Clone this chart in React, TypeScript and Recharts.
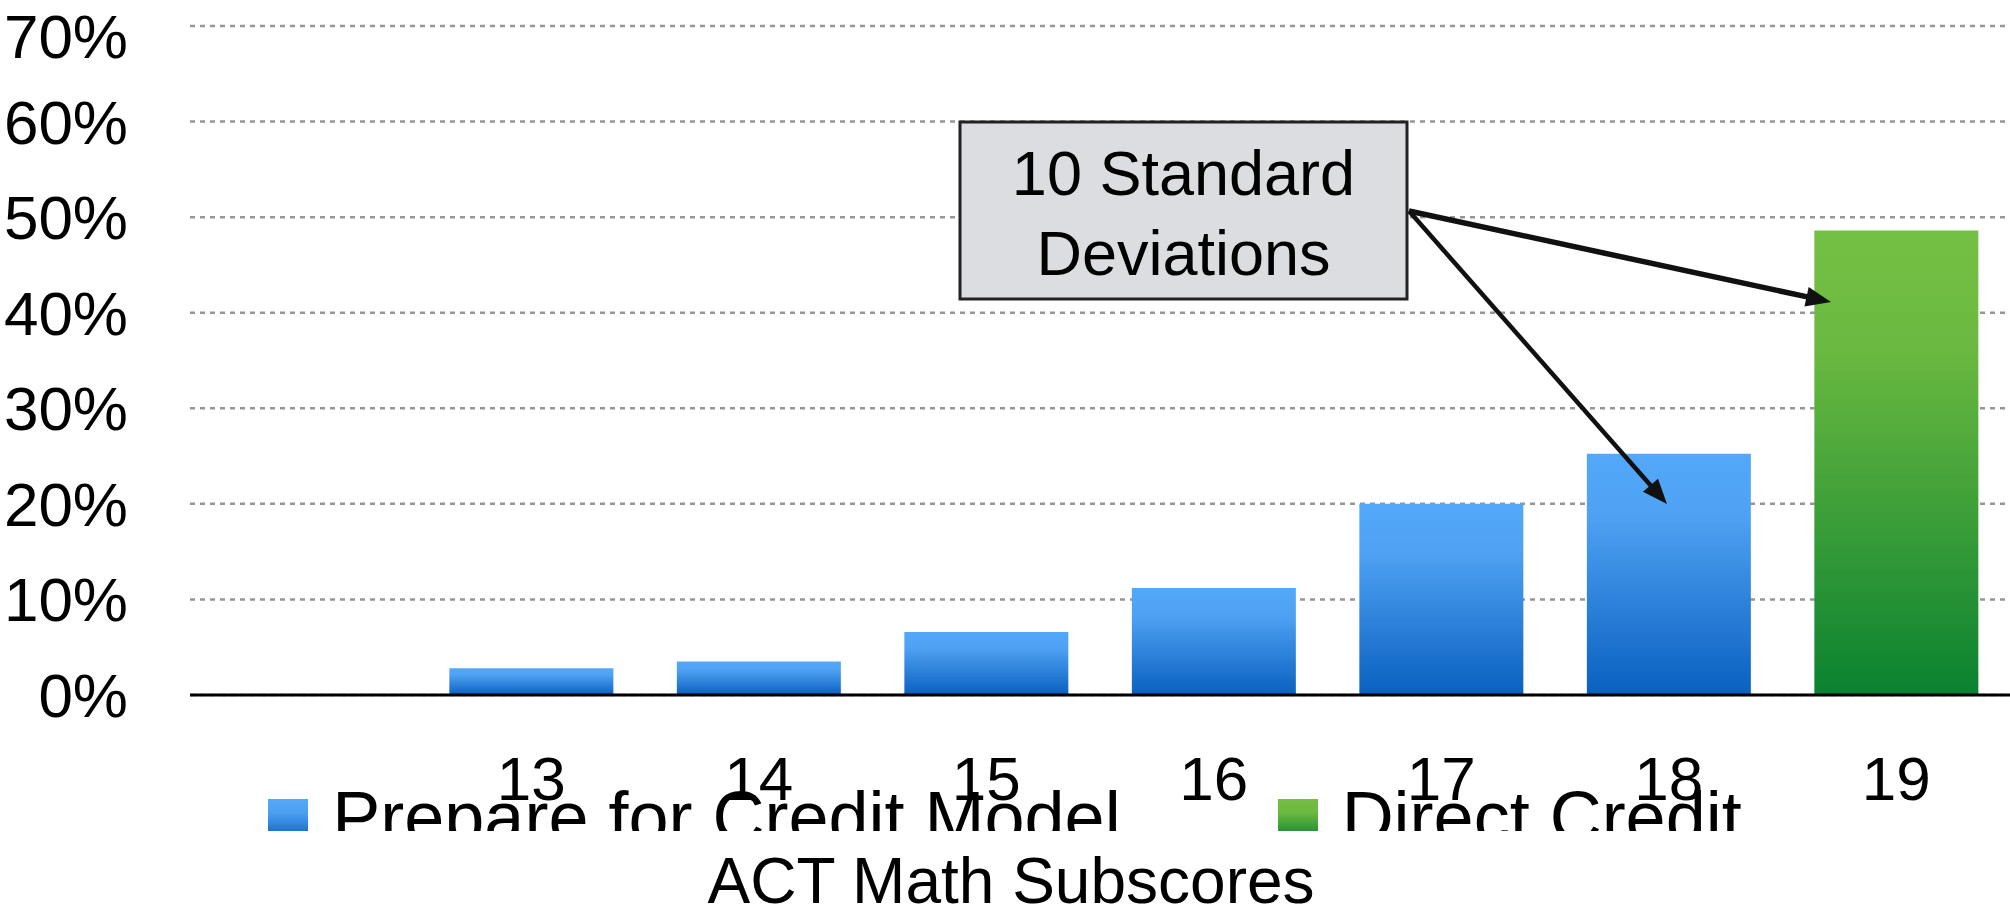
import React from "react";
import {
  BarChart,
  Bar,
  XAxis,
  YAxis,
  CartesianGrid,
  Legend,
  Label,
} from "recharts";

// chart values
const categories = ["", "13", "14", "15", "16", "17", "18", "19"];
const prepareValues = [null, 2.8, 3.5, 6.6, 11.2, 20.0, 25.25, null];
const directValues = [null, null, null, null, null, null, null, 48.6];
const yTicks = [0, 10, 20, 30, 40, 50, 60, 70];
const prepareName = "Prepare for Credit Model";
const directName = "Direct Credit";
const axisTitle = "ACT Math Subscores";
const noteLines = ["10 Standard", "Deviations"];

const data = categories.map((score, i) => ({
  score,
  prepare: prepareValues[i],
  direct: directValues[i],
}));

const FONT = '"Liberation Sans", Arial, Helvetica, sans-serif';
const WIDTH = 2010;
const HEIGHT = 908;

const legendGradients: Record<string, string> = {
  prepare: "linear-gradient(#53a8fa 0%, #4c9ef0 35%, #0a61bf 100%)",
  direct: "linear-gradient(#74c044 0%, #6ab83f 35%, #0b8331 100%)",
};

function LegendContent({ payload }: any) {
  const items = ["prepare", "direct"]
    .map((key) => (payload || []).find((p: any) => p.dataKey === key))
    .filter(Boolean);
  return (
    <div
      style={{
        display: "flex",
        justifyContent: "center",
        height: 52,
        overflow: "hidden",
        fontFamily: FONT,
      }}
    >
      {items.map((p: any, i: number) => (
        <div
          key={p.dataKey}
          style={{ display: "flex", alignItems: "flex-start", marginLeft: i ? 157 : 0 }}
        >
          <div
            style={{
              width: 40,
              height: 40,
              marginTop: 20,
              background: legendGradients[p.dataKey],
            }}
          />
          <span
            style={{
              fontSize: 72,
              lineHeight: "72px",
              marginLeft: 24,
              marginTop: 2,
              color: "#000",
              whiteSpace: "nowrap",
            }}
          >
            {p.value}
          </span>
        </div>
      ))}
    </div>
  );
}

// callout box with two arrows (drawn over the chart)
const noteBox = { x: 960, y: 122, w: 447, h: 177 };
const noteArrows = [
  { from: [1409, 211], to: [1831, 302], width: 5.5 },
  { from: [1409, 211], to: [1667, 504], width: 4.5 },
];

function Arrow({ from, to, width }: { from: number[]; to: number[]; width: number }) {
  const dx = to[0] - from[0];
  const dy = to[1] - from[1];
  const len = Math.hypot(dx, dy);
  const ux = dx / len;
  const uy = dy / len;
  const headLen = 25;
  const headHalf = 10;
  const bx = to[0] - ux * headLen;
  const by = to[1] - uy * headLen;
  const pts = [
    [to[0], to[1]],
    [bx - uy * headHalf, by + ux * headHalf],
    [bx + uy * headHalf, by - ux * headHalf],
  ]
    .map((p) => p.join(","))
    .join(" ");
  return (
    <g>
      <line x1={from[0]} y1={from[1]} x2={bx + ux * 2} y2={by + uy * 2} stroke="#111" strokeWidth={width} />
      <polygon points={pts} fill="#111" />
    </g>
  );
}

function Annotation() {
  const cx = noteBox.x + noteBox.w / 2;
  return (
    <svg
      width={WIDTH}
      height={HEIGHT}
      style={{ position: "absolute", left: 0, top: 0, pointerEvents: "none" }}
    >
      <rect
        x={noteBox.x}
        y={noteBox.y}
        width={noteBox.w}
        height={noteBox.h}
        fill="#dcdde0"
        stroke="#222"
        strokeWidth={3}
      />
      <text x={cx} y={195} textAnchor="middle" fontSize={63} fontFamily={FONT} fill="#000">
        {noteLines[0]}
      </text>
      <text x={cx} y={275} textAnchor="middle" fontSize={63} fontFamily={FONT} fill="#000">
        {noteLines[1]}
      </text>
      {noteArrows.map((a, i) => (
        <Arrow key={i} from={a.from} to={a.to} width={a.width} />
      ))}
    </svg>
  );
}

export default function App() {
  return (
    <div style={{ position: "absolute", left: 0, top: 0, width: WIDTH, height: HEIGHT, background: "#fff" }}>
      <BarChart
        width={WIDTH}
        height={HEIGHT}
        data={data}
        margin={{ top: 26, right: 0, bottom: 0, left: 0 }}
        barCategoryGap="14%"
        style={{ fontFamily: FONT }}
      >
        <defs>
          <linearGradient id="gradPrepare" x1="0" y1="0" x2="0" y2="1">
            <stop offset="0%" stopColor="#53a8fa" />
            <stop offset="25%" stopColor="#4fa2f3" />
            <stop offset="100%" stopColor="#0960bf" />
          </linearGradient>
          <linearGradient id="gradDirect" x1="0" y1="0" x2="0" y2="1">
            <stop offset="0%" stopColor="#74c044" />
            <stop offset="25%" stopColor="#6bb940" />
            <stop offset="100%" stopColor="#0a8230" />
          </linearGradient>
        </defs>
        <CartesianGrid
          vertical={false}
          strokeDasharray="5 5"
          stroke="#969696"
          strokeWidth={2.5}
        />
        <XAxis
          dataKey="score"
          type="category"
          height={213}
          tickLine={false}
          tickSize={0}
          tickMargin={61}
          axisLine={{ stroke: "#000", strokeWidth: 3 }}
          tick={{ fontSize: 62, fill: "#000", fontFamily: FONT }}
          interval={0}
        >
          <Label
            value={axisTitle}
            position="insideBottom"
            offset={5}
            dx={-89}
            fontSize={64}
            fill="#000"
            fontFamily={FONT}
          />
        </XAxis>
        <YAxis
          width={190}
          domain={[0, 70]}
          ticks={yTicks}
          tickFormatter={(v: number) => `${v}%`}
          axisLine={false}
          tickLine={false}
          tickSize={0}
          tickMargin={62}
          tick={{ fontSize: 62, fill: "#000", fontFamily: FONT }}
        />
        <Legend
          layout="horizontal"
          verticalAlign="middle"
          align="center"
          content={<LegendContent />}
          wrapperStyle={{ top: 779, left: 0, width: WIDTH, height: 52, overflow: "hidden" }}
        />
        <Bar
          dataKey="prepare"
          name={prepareName}
          stackId="a"
          fill="url(#gradPrepare)"
          isAnimationActive={false}
        />
        <Bar
          dataKey="direct"
          name={directName}
          stackId="a"
          fill="url(#gradDirect)"
          isAnimationActive={false}
        />
      </BarChart>
      <Annotation />
    </div>
  );
}
